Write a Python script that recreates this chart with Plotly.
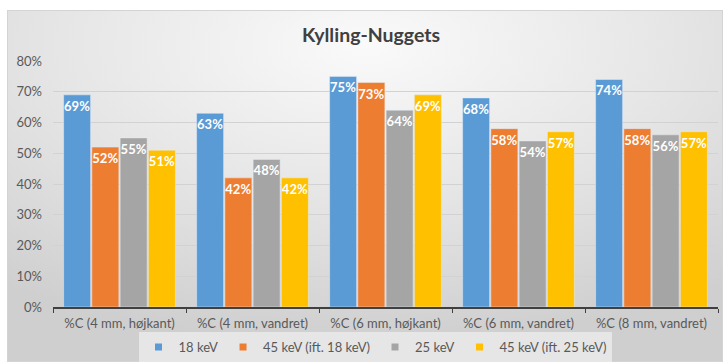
import base64
import plotly.graph_objects as go

categories = ["%C (4 mm, højkant)", "%C (4 mm, vandret)", "%C (6 mm, højkant)",
              "%C (6 mm, vandret)", "%C (8 mm, vandret)"]
series_names = ["18 keV", "45 keV (ift. 18 keV)", "25 keV", "45 keV (ift. 25 keV)"]
v_18 = [0.69, 0.63, 0.75, 0.68, 0.74]
v_45_18 = [0.52, 0.42, 0.73, 0.58, 0.58]
v_25 = [0.55, 0.48, 0.64, 0.54, 0.56]
v_45_25 = [0.51, 0.42, 0.69, 0.57, 0.57]
colors = ["#5B9BD5", "#ED7D31", "#A5A5A5", "#FFC000"]
values = [v_18, v_45_18, v_25, v_45_25]

W, H = 723, 362
L, R, T, B = 53, 5, 61, 55
pw, ph = W - L - R, H - T - B

fig = go.Figure()
for name, vals, col in zip(series_names, values, colors):
    fig.add_trace(go.Bar(
        x=categories, y=vals, name=name, marker_color=col, showlegend=False,
        texttemplate="%{y:.0%}", textposition="inside", insidetextanchor="end",
        textangle=0, constraintext="none",
        textfont=dict(family="Lato", size=13, color="white", weight="bold"),
        hoverinfo="skip",
    ))
for name, col in zip(series_names, colors):
    fig.add_trace(go.Scatter(
        x=[None], y=[None], mode="markers", name=name,
        marker=dict(symbol="square", size=7, color=col),
    ))

svg = (
    "<svg xmlns='http://www.w3.org/2000/svg' width='716' height='352' viewBox='0 0 716 352' "
    "preserveAspectRatio='none'><defs><radialGradient id='g' cx='0.5' cy='0.1' r='0.85' "
    "fx='0.5' fy='0.1'><stop offset='0' stop-color='#FAFAFA'/><stop offset='0.5' stop-color='#E6E6E6'/>"
    "<stop offset='1' stop-color='#CFCFCF'/></radialGradient></defs>"
    "<rect x='0.5' y='0.5' width='715' height='351' fill='url(#g)' stroke='#D4D4D4'/></svg>"
)
src = "data:image/svg+xml;base64," + base64.b64encode(svg.encode()).decode()

fig.add_layout_image(dict(
    source=src, xref="paper", yref="paper",
    x=(7 - L) / pw, y=(H - B - 10) / ph,
    sizex=(W - 7) / pw, sizey=(H - 10) / ph,
    xanchor="left", yanchor="top", sizing="stretch", layer="below",
))

fig.update_layout(
    width=W, height=H,
    margin=dict(l=L, r=R, t=T, b=B, pad=0, autoexpand=False),
    paper_bgcolor="white", plot_bgcolor="rgba(0,0,0,0)",
    font=dict(family="Lato", size=13, color="#595959"),
    title=dict(text="<b>Kylling-Nuggets</b>", x=371 / W, xanchor="center",
               xref="container", yref="container",
               y=1 - 35 / H, yanchor="middle",
               font=dict(family="Lato", size=19.5, color="#404040")),
    barmode="group", bargap=0.15, bargroupgap=0.045,
    showlegend=True,
    legend=dict(orientation="h", xref="paper", x=(375 - L) / pw, xanchor="center",
                yref="container", y=0, yanchor="bottom",
                bgcolor="rgba(238,238,238,0.75)",
                font=dict(family="Lato", size=13, color="#595959"),
                itemwidth=30, tracegroupgap=0),
    xaxis=dict(showline=True, linecolor="#404040", linewidth=1.5,
               ticks="outside", tickson="boundaries", ticklen=4, tickcolor="#404040",
               tickangle=0, automargin=False, ticklabelstandoff=4,
               tickfont=dict(family="Lato", size=13, color="#595959"),
               showgrid=False, fixedrange=True),
    yaxis=dict(range=[0, 0.8], dtick=0.1, tickformat=".0%", automargin=False,
               showgrid=True, gridcolor="#D2D2D2", gridwidth=1,
               zeroline=False, showline=False, ticks="", ticklabelstandoff=10,
               tickfont=dict(family="Lato", size=13, color="#595959"),
               fixedrange=True),
)

fig.write_html("out.html")
